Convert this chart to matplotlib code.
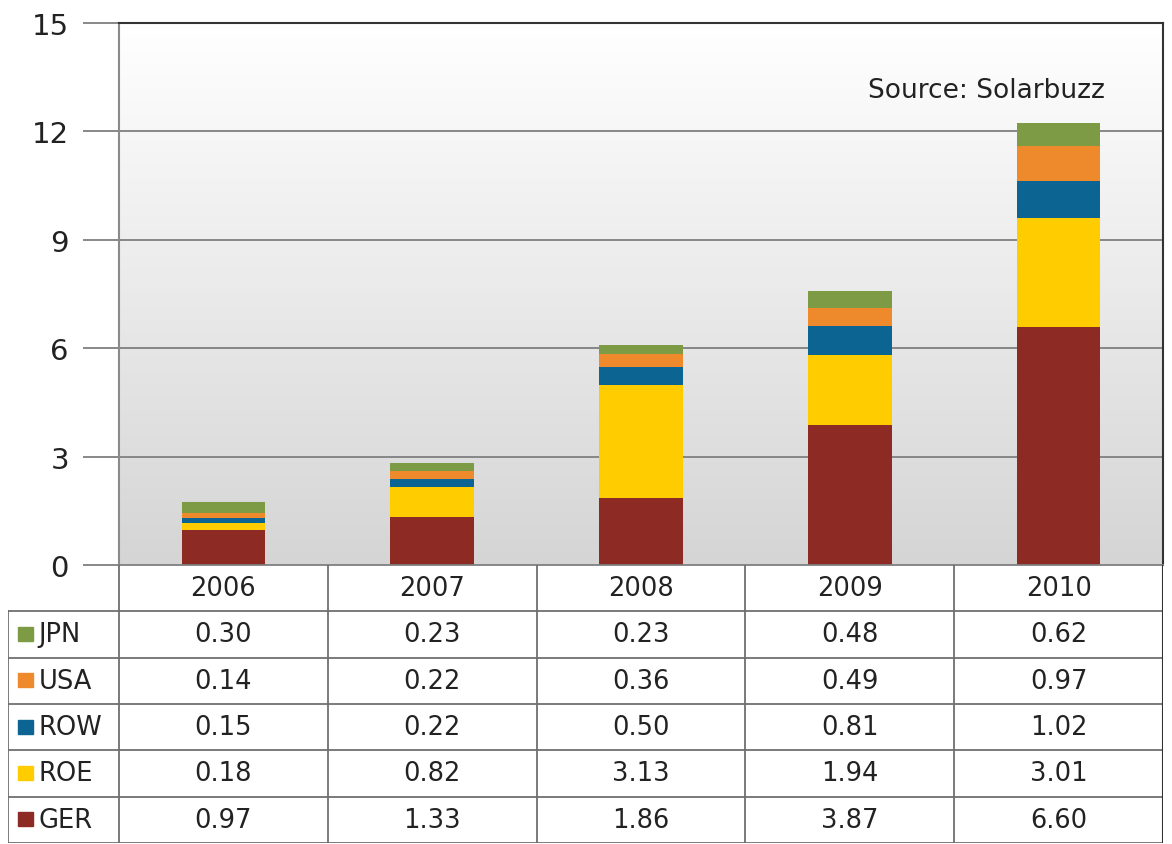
import numpy as np
import matplotlib.pyplot as plt
from matplotlib.colors import LinearSegmentedColormap
from matplotlib.patches import Rectangle

years = ["2006", "2007", "2008", "2009", "2010"]
# stacked bottom -> top
ger = [0.97, 1.33, 1.86, 3.87, 6.60]
roe = [0.18, 0.82, 3.13, 1.94, 3.01]
row = [0.15, 0.22, 0.50, 0.81, 1.02]
usa = [0.14, 0.22, 0.36, 0.49, 0.97]
jpn = [0.30, 0.23, 0.23, 0.48, 0.62]

series = [("GER", ger, "#8e2a24"), ("ROE", roe, "#ffcc00"),
          ("ROW", row, "#0b6492"), ("USA", usa, "#ef8a2c"),
          ("JPN", jpn, "#7d9a45")]

W, H = 1172, 845
fig = plt.figure(figsize=(W / 100, H / 100), dpi=100)
fig.patch.set_facecolor("white")

# main chart axes (pixel layout from reference)
x0, x1, ytop, ybot = 119, 1163, 24, 566
ax = fig.add_axes([x0 / W, (H - ybot) / H, (x1 - x0) / W, (ybot - ytop) / H])
ax.set_xlim(-0.5, 4.5)
ax.set_ylim(0, 15)

# background: light gray at the bottom fading to white at the top
grad = np.linspace(0.0, 1.0, 256).reshape(-1, 1)
bg = LinearSegmentedColormap.from_list("bg", ["#d5d5d5", "#ffffff"])
ax.imshow(grad, extent=(-0.5, 4.5, 0, 15), aspect="auto", origin="lower",
          cmap=bg, vmin=0, vmax=1, zorder=0)

for yv in [3, 6, 9, 12]:
    ax.axhline(yv, color="#7f7f7f", lw=1.3, zorder=1)

x = np.arange(len(years))
bottom = np.zeros(len(years))
for name, vals, col in series:
    ax.bar(x, vals, 0.4, bottom=bottom, color=col, zorder=2)
    bottom += np.array(vals)

ax.set_yticks([0, 3, 6, 9, 12, 15])
ax.tick_params(axis="y", labelsize=21, length=26, width=1.3, color="#7f7f7f",
               pad=10, labelcolor="#222222")
ax.set_xticks([])
ax.spines["left"].set_color("#8a8a8a")
ax.spines["left"].set_linewidth(1.5)
ax.spines["top"].set_color("#333333")
ax.spines["top"].set_linewidth(1.5)
ax.spines["right"].set_color("#333333")
ax.spines["right"].set_linewidth(1.5)
ax.spines["bottom"].set_color("#7f7f7f")
ax.spines["bottom"].set_linewidth(1.3)

ax.text(0.944, 0.877, "Source: Solarbuzz", transform=ax.transAxes,
        ha="right", va="center", fontsize=19, color="#222222")

# data table below
tx0, tbot = 8, 844
tab = fig.add_axes([tx0 / W, (H - tbot) / H, (x1 - tx0) / W, (tbot - ybot) / H])
colw = (x1 - x0) / 5
lab_w = (x0 - tx0) / colw
tab.set_xlim(-0.5 - lab_w, 4.5)
tab.set_ylim(0, 6)
tab.axis("off")

lc = "#6f6f6f"
lw = 1.3
fs = 18.5
# header row
for i in range(6):
    tab.plot([-0.5 + i, -0.5 + i], [5, 6], color=lc, lw=lw)
for i, yr in enumerate(years):
    tab.text(i, 5.5, yr, ha="center", va="center", fontsize=fs, color="#222222")

# body rows (top to bottom: JPN, USA, ROW, ROE, GER)
for r, (name, vals, col) in enumerate(series[::-1]):
    yc = 4.5 - r
    for i, v in enumerate(vals):
        tab.text(i, yc, f"{v:.2f}", ha="center", va="center", fontsize=fs,
                 color="#222222")
    tab.add_patch(Rectangle((-0.5 - lab_w + 0.05, yc - 0.14), 0.068, 0.30,
                            color=col))
    tab.text(-0.5 - lab_w + 0.145, yc, name, ha="left", va="center",
             fontsize=fs, color="#222222")

for yv in range(0, 6):
    tab.plot([-0.5 - lab_w, 4.5], [yv, yv], color=lc, lw=lw)
tab.plot([-0.5 - lab_w, -0.5 - lab_w], [0, 5], color=lc, lw=lw)
for i in range(6):
    tab.plot([-0.5 + i, -0.5 + i], [0, 5], color=lc, lw=lw)
tab.plot([4.5, 4.5], [0, 6], color="#333333", lw=1.5)

fig.savefig("out.png", dpi=100)
